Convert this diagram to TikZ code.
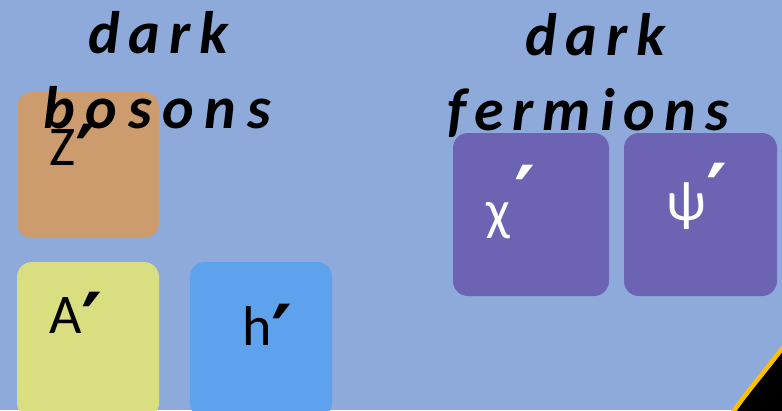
\documentclass[tikz,border=0pt]{standalone}
\usepackage{fontspec}
\setmainfont{Carlito}
\newfontfamily\titlefont[LetterSpace=15]{Carlito}
\newfontfamily\titlefontb[LetterSpace=18]{Carlito}
\newfontfamily\primefont{DejaVu Sans}
\newcommand{\pr}{{\primefont\bfseries\fontsize{80}{80}\selectfont ′}}
\definecolor{bgblue}{RGB}{142,170,219}
\definecolor{zcol}{RGB}{204,155,110}
\definecolor{acol}{RGB}{217,222,128}
\definecolor{hcol}{RGB}{94,161,236}
\definecolor{fcol}{RGB}{108,99,178}
\definecolor{edgeyel}{RGB}{255,192,0}
\tikzset{
  particle/.style={rounded corners=15pt},
  title/.style={font=\titlefont\fontsize{60}{60}\selectfont\bfseries\itshape, inner sep=0pt, anchor=base west},
  lab/.style={font=\fontsize{56}{56}\selectfont, inner sep=0pt, anchor=base west},
}
\begin{document}
\begin{tikzpicture}[x=1pt,y=-1pt]
\useasboundingbox (0,0) rectangle (782,410);
\clip (0,0) rectangle (782,410);
\fill[bgblue] (0,0) rectangle (782,410);
% corner
\fill[black] (733,412) .. controls (750,388) and (766,370) .. (784,346) -- (784,412) -- cycle;
\draw[edgeyel, line width=4.5pt] (733,412) .. controls (750,388) and (766,370) .. (784,346);
% boxes
\fill[zcol, particle] (17,92) rectangle (159,238);
\fill[acol, particle] (17,262) rectangle (159,418);
\fill[hcol, particle] (190,262) rectangle (332,418);
\fill[fcol, particle] (453,133) rectangle (609,296);
\fill[fcol, particle] (624,133) rectangle (777,296);
% labels
\node[lab] (zp) at (49,165) {Z\kern0pt\raisebox{-17pt}{\pr}};
\node[lab] (ap) at (49,333) {A\kern0pt\raisebox{-17pt}{\pr}};
\node[lab] (hp) at (242,345) {h\kern0pt\raisebox{-17pt}{\pr}};
\node[lab, text=white] (chip) at (486,229) {χ\kern4pt\raisebox{6pt}{\pr}};
\node[lab, text=white] (psip) at (666,220) {ψ\kern1pt\raisebox{-1pt}{\pr}};
% titles
\node[title] (bd) at (88,53) {dark};
\node[title, font=\titlefontb\fontsize{60}{60}\selectfont\bfseries\itshape] (bb) at (43,128) {bosons};
\node[title] (fd) at (525,55) {dark};
\node[title] (ff) at (447,130) {fermions};
\end{tikzpicture}
\end{document}
